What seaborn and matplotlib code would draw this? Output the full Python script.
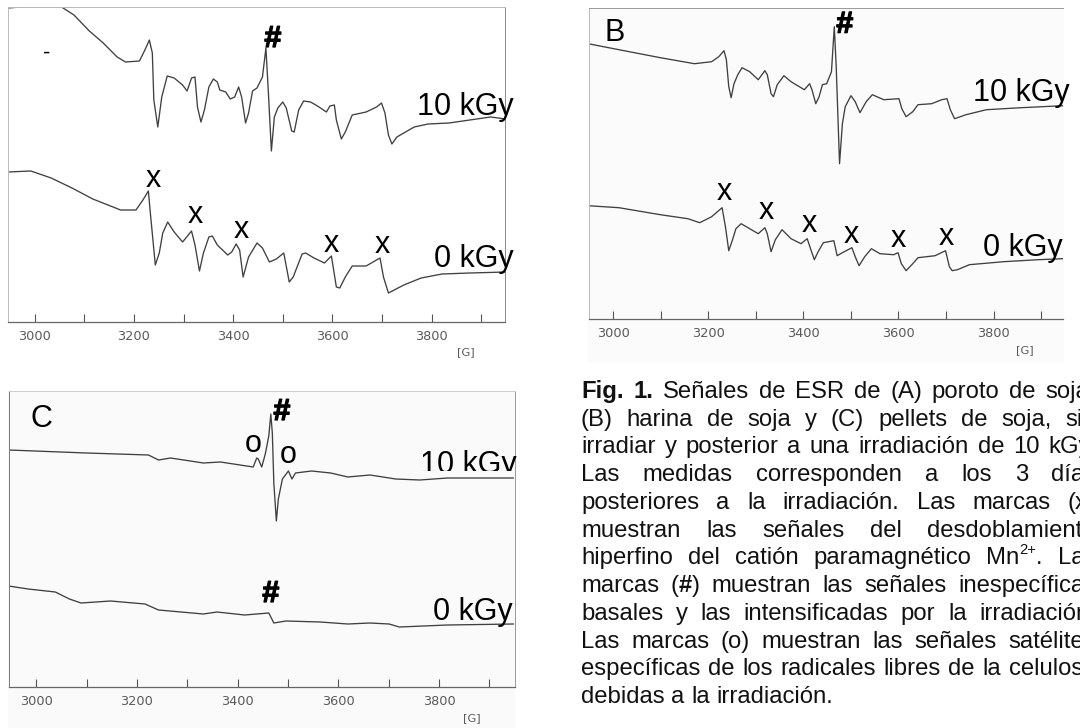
import matplotlib
matplotlib.use("Agg")
import matplotlib.pyplot as plt
import matplotlib.patheffects as pe
import seaborn as sns
from matplotlib.patches import Rectangle
from matplotlib.transforms import Bbox

# ---------- data: field (G) and signal height ----------
a10_g = [2946,2971,3054,3079,3110,3138,3166,3183,3211,3222,3231,3237,3240,3248,3256,3267,3281,3298,3307,3316,3323,3328,3335,3342,3351,3360,3368,3373,3385,3394,3403,3411,3417,3425,3431,3439,3448,3459,3466,3471,3477,3483,3490,3500,3507,3518,3523,3532,3542,3556,3570,3588,3595,3604,3608,3618,3626,3640,3668,3689,3699,3706,3713,3720,3730,3765,3793,3835,3877,3919,3949]
a10_s = [313,314,314,306,290,278,264,259,260,271,281,268,221,194,224,245,243,236,230,243,244,214,199,211,234,242,239,231,229,222,224,234,224,198,208,230,233,244,273,228,170,204,213,219,213,190,189,211,220,219,215,209,215,216,201,182,189,206,209,214,218,208,186,177,184,194,197,198,201,204,202]
a0_g = [2946,2992,3033,3075,3117,3173,3204,3218,3229,3233,3243,3251,3258,3268,3281,3298,3316,3323,3332,3340,3351,3358,3368,3389,3397,3406,3413,3420,3431,3448,3459,3473,3487,3502,3513,3521,3539,3546,3563,3584,3598,3608,3615,3626,3640,3668,3696,3703,3713,3744,3779,3821,3877,3949]
a0_s = [149,150,143,133,122,111,111,121,130,108,56,68,88,99,89,79,90,76,50,68,84,85,76,66,69,77,71,44,64,78,73,59,62,68,39,44,67,68,63,58,65,34,33,44,55,55,63,44,28,36,43,47,48,49]

b10_g = [2947,3012,3099,3171,3207,3222,3233,3238,3243,3248,3254,3262,3271,3287,3305,3319,3324,3332,3337,3345,3359,3374,3402,3413,3418,3426,3433,3440,3449,3459,3465,3469,3476,3482,3488,3500,3509,3519,3532,3545,3569,3601,3607,3616,3630,3641,3670,3691,3702,3709,3718,3742,3785,3858,3946]
b10_s = [273,267,259,253,255,260,266,257,230,219,233,242,249,245,237,246,242,223,220,232,241,235,227,233,227,213,220,232,233,245,290,250,153,193,210,221,215,204,215,222,217,218,208,200,205,212,213,217,218,207,198,202,207,209,211]
b0_g = [2947,3012,3099,3157,3182,3207,3229,3236,3243,3251,3258,3269,3287,3305,3319,3324,3332,3341,3355,3374,3395,3408,3415,3423,3431,3442,3464,3471,3482,3502,3509,3517,3529,3543,3561,3590,3599,3606,3616,3630,3641,3677,3699,3707,3713,3724,3749,3821,3894,3946]
b0_s = [111,109,102,98,94,100,109,90,66,77,88,93,88,83,89,83,65,77,87,78,73,78,68,57,65,74,76,61,64,69,60,51,60,68,63,62,64,53,46,53,59,61,66,50,46,47,52,55,57,58]

c10_g = [2945,2997,3100,3223,3243,3267,3332,3366,3431,3438,3441,3448,3455,3462,3466,3469,3472,3477,3481,3489,3501,3508,3515,3547,3585,3619,3663,3714,3762,3817,3948]
c10_s = [237,236,234,232,227,229,224,225,220,229,228,220,233,251,273,254,204,166,188,208,216,208,214,216,214,210,212,208,207,209,209]
c0_g = [2945,2984,3038,3066,3089,3148,3216,3243,3332,3359,3414,3462,3472,3496,3564,3619,3663,3701,3721,3817,3948]
c0_s = [101,98,95,88,84,86,83,77,73,75,72,74,64,66,65,63,64,63,60,62,63]

all_ticks = [3000,3100,3200,3300,3400,3500,3600,3700,3800,3900]
tick_labels = ["3000","","3200","","3400","","3600","","3800",""]
dose_labels = ["10 kGy","0 kGy"]

caption = [
    [("Fig.",1),("1.",1),("Señales",0),("de",0),("ESR",0),("de",0),("(A)",0),("poroto",0),("de",0),("soja,",0)],
    "(B) harina de soja y (C) pellets de soja, sin",
    "irradiar y posterior a una irradiación de 10 kGy.",
    "Las medidas corresponden a los 3 días",
    "posteriores a la irradiación. Las marcas (x)",
    "muestran las señales del desdoblamiento",
    "hiperfino del catión paramagnético Mn2+. Las",
    "marcas (#) muestran las señales inespecíficas",
    "basales y las intensificadas por la irradiación.",
    "Las marcas (o) muestran las señales satélites",
    "específicas de los radicales libres de la celulosa",
    "debidas a la irradiación.",
]

# ---------- style ----------
sns.set_theme(style="white")
plt.rcParams["font.family"] = ["Liberation Sans", "DejaVu Sans"]
W, HT = 1080, 728
fig = plt.figure(figsize=(W/100, HT/100), dpi=100, facecolor="white")
INK = "#404040"
FS = 22

def panel(l, r, t, b, y0, xlim, series, texts, gx, gy, edges):
    ax = fig.add_axes([l/W, 1-b/HT, (r-l)/W, (b-t)/HT])
    ax.set_facecolor("none")
    for g, s in series:
        sns.lineplot(x=g, y=s, ax=ax, estimator=None, sort=False, color=INK, lw=0.95,
                     solid_joinstyle="round")
    ax.set_xlim(*xlim)
    ax.set_ylim(y0, y0 + b - t)
    ax.set_xticks(all_ticks, tick_labels)
    ax.set_yticks([])
    ax.set_xlabel(""); ax.set_ylabel("")
    ax.tick_params(axis="x", direction="in", length=6, width=0.8, color="#555555",
                   labelsize=9.3, labelcolor="#5a5a5a", pad=5.5, bottom=True)
    for lab in ax.get_xticklabels():
        lab.set_fontfamily("DejaVu Sans")
    for name, col, w in [("bottom", "#666666", 0.9), ("top", edges[0], 0.7),
                         ("left", edges[1], 0.7), ("right", edges[2], 0.7)]:
        ax.spines[name].set_visible(col is not None)
        if col is not None:
            ax.spines[name].set_color(col); ax.spines[name].set_linewidth(w)
    out = []
    for x, y, s, kw in texts:
        t_ = ax.text(x, y, s, color="black", fontsize=kw.get("fs", FS), ha=kw.get("ha", "center"),
                     va="baseline", fontweight=kw.get("w", "normal"), clip_on=False)
        if kw.get("w") == "bold":
            t_.set_path_effects([pe.withStroke(linewidth=0.9, foreground="black")])
        out.append(t_)
    ax.text(gx, gy, "[G]", fontsize=8.2, color="#5a5a5a", ha="center", va="center",
            fontfamily="DejaVu Sans", clip_on=False)
    return ax, out

# page tint of the scanned panels B and C
fig.add_artist(Rectangle((588/W, 1-362/HT), 476/W, 354/HT, transform=fig.transFigure, fc="#fbfbfb", ec="none", zorder=-5))
fig.add_artist(Rectangle((8/W, 1-728/HT), 507/W, 337/HT, transform=fig.transFigure, fc="#fafafa", ec="none", zorder=-5))

B = {"w": "bold"}
L = {"ha": "left"}
panel(8, 504.5, 7, 322, -1, (2946, 3947), [(a10_g, a10_s), (a0_g, a0_s)],
      [(3480, 274, "#", B), (3024, 262, "-", {"fs": 16}),
       (3771, 206, dose_labels[0], L), (3804, 54, dose_labels[1], L),
       (3239, 134, "x", {}), (3324, 98, "x", {}), (3416, 83, "x", {}), (3598, 69, "x", {}), (3700, 68, "x", {})],
      3868, -31, ("#bbbbbb", "#bbbbbb", "#888888"))
panel(588.5, 1063, 8, 319, -2.3, (2948, 3946), [(b10_g, b10_s), (b0_g, b0_s)],
      [(2982, 276, "B", L), (3487, 284, "#", B),
       (3756, 216, dose_labels[0], L), (3778, 61, dose_labels[1], L),
       (3233, 117, "x", {}), (3321, 98, "x", {}), (3413, 85, "x", {}), (3501, 74, "x", {}), (3600, 70, "x", {}), (3700, 72, "x", {})],
      3866, -33, ("#999999", "#bbbbbb", None))
_, ctexts = panel(9, 514.5, 391, 687, 0, (2946, 3950), [(c10_g, c10_s), (c0_g, c0_s)],
      [(2989, 260, "C", L), (3488, 267, "#", B), (3431, 235, "o", {}), (3501, 224, "o", {}),
       (3762, 214, dose_labels[0], L), (3789, 67, dose_labels[1], L), (3466, 85, "#", B)],
      3866, -31, ("#cccccc", "#777777", "#999999"))
ctexts[4].set_clip_on(True)
ctexts[4].set_clip_box(Bbox.from_extents(0, HT-471, W, HT))

# ---------- caption, justified ----------
CF = 17.2
X0, X1 = 581, 1096
Y0, DY = 398, 27.73
rend = fig.canvas.get_renderer()

def width(s, bold=False, fs=CF):
    t = fig.text(0, 0, s, fontsize=fs, fontweight="bold" if bold else "normal")
    w = t.get_window_extent(rend).width
    t.remove()
    return w

for i, line in enumerate(caption):
    toks = line if isinstance(line, list) else [(w, 0) for w in line.split()]
    ws = []
    for s, bd in toks:
        if s == "Mn2+.":
            ws.append(width("Mn") + width("2+", fs=CF*0.62) + width("."))
        elif s == "(#)":
            ws.append(width("(") + width("#", True) + width(")"))
        else:
            ws.append(width(s, bool(bd)))
    last = i == len(caption) - 1
    gap = width("x x") - 2*width("x") if last else (X1 - X0 - sum(ws)) / (len(ws) - 1)
    x = X0
    yb = 1 - (Y0 + i*DY)/HT
    kw = dict(fontsize=CF, color="#111111", va="baseline", ha="left")
    for (s, bd), w in zip(toks, ws):
        if s == "Mn2+.":
            fig.text(x/W, yb, "Mn", **kw)
            xx = x + width("Mn")
            fig.text(xx/W, yb + 10/HT, "2+", fontsize=CF*0.62, color="#111111", va="baseline", ha="left")
            fig.text((xx + width("2+", fs=CF*0.62))/W, yb, ".", **kw)
        elif s == "(#)":
            fig.text(x/W, yb, "(", **kw)
            fig.text((x + width("("))/W, yb, "#", fontweight="bold", **kw)
            fig.text((x + width("(") + width("#", True))/W, yb, ")", **kw)
        else:
            fig.text(x/W, yb, s, fontweight="bold" if bd else "normal", **kw)
        x += w + gap

fig.savefig("out.png", dpi=100)
